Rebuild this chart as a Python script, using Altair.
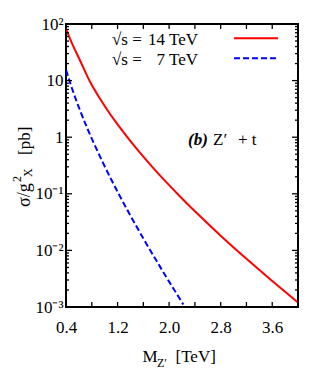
import altair as alt
import pandas as pd

# ---- data ----
red_mass = [0.4, 0.5, 0.6, 0.7, 0.8, 1.0, 1.2, 1.4, 1.6, 1.8, 2.0, 2.2, 2.4, 2.8, 3.2, 3.6, 4.0]
red_sigma = [83.2, 43.6, 25.1, 14.1, 8.4, 3.56, 1.68, 0.849, 0.452, 0.249, 0.142, 0.0824,
             0.0490, 0.0182, 0.00711, 0.00288, 0.00120]
blue_mass = [0.4, 0.5, 0.6, 0.7, 0.8, 1.0, 1.2, 1.4, 1.6, 1.8, 2.0, 2.22]
blue_sigma = [15.5, 6.89, 3.36, 1.74, 0.944, 0.306, 0.1087, 0.0411, 0.01626, 0.00667,
              0.00281, 0.00111]

x_ticks = [0.4, 0.8, 1.2, 1.6, 2.0, 2.4, 2.8, 3.2, 3.6, 4.0]
x_labels = [0.4, 1.2, 2.0, 2.8, 3.6]
y_ticks = [0.001, 0.01, 0.1, 1, 10, 100]
y_labels = ["10⁻³", "10⁻²", "10⁻¹", "1", "10", "10²"]
y_minor = [m * 10.0 ** e for e in range(-3, 2) for m in range(2, 10)]

FONT = "Liberation Serif"
W, H = 232, 283

xs = alt.Scale(domain=[0.4, 4.0], nice=False, zero=False)
ys = alt.Scale(type="log", domain=[0.001, 100], nice=False)

label_expr = " : ".join(
    f"datum.value > {v * 0.5} ? '{l}'" for v, l in sorted(zip(y_ticks, y_labels), reverse=True)
) + " : ''"

x_axis = alt.Axis(values=x_labels, title=None, grid=False, domain=False, ticks=False,
                  tickSize=0, labelFont=FONT, labelFontSize=17, labelColor="black",
                  labelPadding=12, labelFlush=False, labelOverlap=False, format=".1f")
y_axis = alt.Axis(values=y_ticks, title=None, grid=False, domain=False, ticks=False,
                  tickSize=0, labelFont=FONT, labelFontSize=17, labelColor="black",
                  labelPadding=3, labelExpr=label_expr, labelOverlap=False, labelFlush=False)

red_df = pd.DataFrame({"M": red_mass, "s": red_sigma})
blue_df = pd.DataFrame({"M": blue_mass, "s": blue_sigma})

red = alt.Chart(red_df).mark_line(color="#ff0000", strokeWidth=2, interpolate="natural",
                                  clip=True).encode(
    x=alt.X("M:Q", scale=xs, axis=x_axis),
    y=alt.Y("s:Q", scale=ys, axis=y_axis),
)
blue = alt.Chart(blue_df).mark_line(color="#0000ff", strokeWidth=2, strokeDash=[6, 3],
                                    interpolate="natural", clip=True).encode(
    x=alt.X("M:Q", scale=xs),
    y=alt.Y("s:Q", scale=ys),
)

xt = alt.Chart(pd.DataFrame({"v": x_ticks}))
ytM = alt.Chart(pd.DataFrame({"v": y_ticks}))
ytm = alt.Chart(pd.DataFrame({"v": y_minor}))

tick_style = dict(color="black", strokeWidth=1.3)
ticks = [
    xt.mark_rule(**tick_style).encode(x=alt.X("v:Q", scale=xs), y=alt.value(H), y2=alt.value(H - 5)),
    xt.mark_rule(**tick_style).encode(x=alt.X("v:Q", scale=xs), y=alt.value(0), y2=alt.value(5)),
    ytM.mark_rule(**tick_style).encode(y=alt.Y("v:Q", scale=ys), x=alt.value(0), x2=alt.value(6)),
    ytM.mark_rule(**tick_style).encode(y=alt.Y("v:Q", scale=ys), x=alt.value(W), x2=alt.value(W - 6)),
    ytm.mark_rule(**tick_style).encode(y=alt.Y("v:Q", scale=ys), x=alt.value(0), x2=alt.value(3)),
    ytm.mark_rule(**tick_style).encode(y=alt.Y("v:Q", scale=ys), x=alt.value(W), x2=alt.value(W - 3)),
]

dummy = alt.Chart(pd.DataFrame({"a": [0]}))


def txt(text, x, y, size=17, align="left", angle=0, style="normal", weight="normal"):
    return dummy.mark_text(text=text, font=FONT, fontSize=size, align=align,
                           baseline="alphabetic", angle=angle, fontStyle=style,
                           fontWeight=weight, color="black").encode(
        x=alt.value(x), y=alt.value(y))


texts = [
    # legend
    txt("√s =", 46, 21),
    txt("14 TeV", 132, 21, align="right"),
    txt("√s =", 46, 41),
    txt("7 TeV", 132, 41, align="right"),
    # panel label
    txt("(b)", 122, 121, style="italic", weight="bold"),
    txt("Z\u2032", 147, 121),
    txt("+ t", 172, 121),
    # x title
    txt("M", 76.5, 338),
    txt("Z\u2032", 91, 343, size=12),
    txt("[TeV]", 109.5, 338),
    # y title (rotated)
    txt("σ/g", -36.5, 183, size=18, angle=270),
    txt("2", -45.5, 158, size=12, angle=270),
    txt("X", -34, 153, size=12, angle=270),
    txt("[pb]", -36.5, 131, angle=270),
]

legend_lines = [
    dummy.mark_rule(color="#ff0000", strokeWidth=2).encode(
        x=alt.value(168), x2=alt.value(212), y=alt.value(14.3)),
    dummy.mark_rule(color="#0000ff", strokeWidth=2, strokeDash=[6, 3]).encode(
        x=alt.value(168), x2=alt.value(212), y=alt.value(34.3)),
]

chart = alt.layer(red, blue, *ticks, *legend_lines, *texts).properties(
    width=W, height=H,
    autosize=alt.AutoSizeParams(type="none"),
    padding={"left": 58, "top": 16, "right": 20, "bottom": 70},
    background="white",
).configure_view(stroke="black", strokeWidth=2)

chart.save("out.html", embed_options={"renderer": "svg", "actions": False})
